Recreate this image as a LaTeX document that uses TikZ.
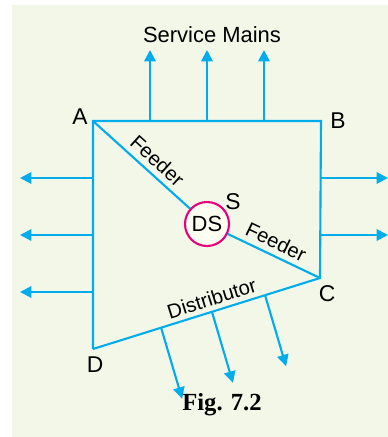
\documentclass[tikz,border=0pt]{standalone}
\usepackage{fontspec}
\setmainfont{Liberation Sans}
\newfontfamily\figfont{Liberation Serif}
\usetikzlibrary{arrows.meta,calc}

\definecolor{linecyan}{RGB}{0,172,236}
\definecolor{dsmagenta}{RGB}{230,0,126}
\definecolor{panelbg}{RGB}{243,247,232}
\definecolor{dsfill}{RGB}{255,255,242}

\begin{document}
\begin{tikzpicture}[x=0.02cm, y=-0.02cm,
    wire/.style={linecyan, line width=1.2pt},
    tap/.style={wire, -{Triangle[length=6.5pt,width=6.5pt]}},
    lbl/.style={text=black, font=\fontsize{11.5}{13}\selectfont, inner sep=1pt},
    corner/.style={text=black, font=\fontsize{13}{15}\selectfont, inner sep=1pt}]
    % Achtergrond
    \useasboundingbox (0,0) rectangle (388,437);
    \fill[panelbg] (12,5) rectangle (388,437);

    % Hoekpunten
    \coordinate (A) at (93,121);
    \coordinate (B) at (321,121);
    \coordinate (C) at (320,278);
    \coordinate (D) at (93,349);
    \node[circle, draw=dsmagenta, line width=1.2pt, fill=dsfill, minimum size=0.88cm,
          inner sep=0pt, font=\fontsize{12.5}{14}\selectfont] (DS) at (207,224) {DS};

    % Ring
    \draw[wire] (D) -- (A) -- (B) -- (C) -- (D)
        node[lbl, pos=0.46, above=1.5pt, sloped] {Distributor};

    % Feeders
    \draw[wire] (A) -- (DS) node[lbl, pos=0.57, above=2pt, sloped] {Feeder};
    \draw[wire] (DS) -- (C) node[lbl, pos=0.46, above=2pt, sloped] {Feeder};

    % Service mains boven
    \foreach \x/\n in {150/1, 207/2, 264/3} {
        \coordinate (t\n) at (\x,121);
        \coordinate (te\n) at (\x,50);
        \draw[tap] (t\n) -- (te\n);
    }
    \node[lbl, font=\fontsize{12.5}{14}\selectfont] (mains) at (212,35) {Service Mains};

    % Links
    \foreach \y/\n in {178/1, 235/2, 292/3} {
        \coordinate (l\n) at (93,\y);
        \coordinate (le\n) at (20,\y);
        \draw[tap] (l\n) -- (le\n);
    }

    % Rechts
    \foreach \y/\n in {178/1, 235/2} {
        \coordinate (r\n) at (321,\y);
        \coordinate (re\n) at (388,\y);
        \draw[tap] (r\n) -- (re\n);
    }

    % Onder (loodrecht op DC)
    \foreach \t/\n in {0.30/1, 0.524/2, 0.758/3} {
        \coordinate (b\n) at ($(D)!\t!(C)$);
        \coordinate (be\n) at ($(b\n)+(21,71)$);
        \draw[tap] (b\n) -- (be\n);
    }

    % Labels
    \node[corner] (labA) at (80,117) {A};
    \node[corner] (labB) at (338,121) {B};
    \node[corner] (labC) at (327,294) {C};
    \node[corner] (labD) at (95,365) {D};
    \node[corner] (labS) at (233,202) {S};
    \node[font=\figfont\bfseries\fontsize{14}{16}\selectfont] (cap) at (222,405) {Fig. 7.2};
\end{tikzpicture}
\end{document}
